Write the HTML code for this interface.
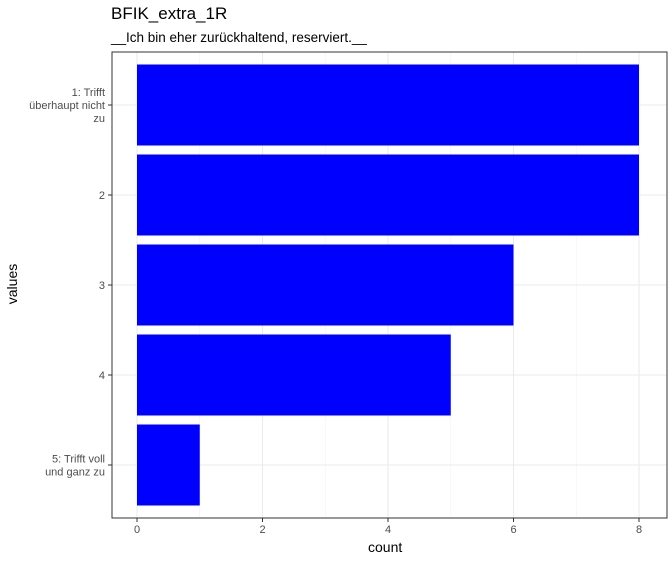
<!DOCTYPE html>
<html><head><meta charset="utf-8"><style>body{margin:0;background:#fff}svg{font-family:"Liberation Sans",sans-serif}</style></head>
<body>
<svg id="c" width="672" height="561"></svg>
<script>
const categories=["1: Trifft|überhaupt nicht|zu","2","3","4","5: Trifft voll|und ganz zu"];
const counts=[8,8,6,5,1];
const xTicks=[0,2,4,6,8];
const svg=document.getElementById('c');
const NS='http://www.w3.org/2000/svg';
const L=112,R=667,T=52,B=518;
const x=v=>137+v*62.75;
const y=i=>105+i*90;
function mk(t,a,p){const e=document.createElementNS(NS,t);for(const k in a)e.setAttribute(k,a[k]);(p||svg).appendChild(e);return e;}
mk('rect',{x:L,y:T,width:R-L,height:B-T,fill:'#fff'});
[1,3,5,7].forEach(v=>mk('line',{x1:x(v),x2:x(v),y1:T,y2:B,stroke:'#f2f2f2','stroke-width':0.7}));
xTicks.forEach(v=>mk('line',{x1:x(v),x2:x(v),y1:T,y2:B,stroke:'#ebebeb','stroke-width':1.1}));
categories.forEach((c,i)=>mk('line',{x1:L,x2:R,y1:y(i),y2:y(i),stroke:'#ebebeb','stroke-width':1.1}));
counts.forEach((v,i)=>{const r=mk('rect',{x:x(0),y:y(i)-40.5,width:x(v)-x(0),height:81,fill:'#0000ff'});

});
mk('rect',{x:L,y:T,width:R-L,height:B-T,fill:'none',stroke:'#333','stroke-width':1});
xTicks.forEach(v=>{mk('line',{x1:x(v),x2:x(v),y1:B,y2:B+4,stroke:'#333'});
const t=mk('text',{x:x(v),y:B+15,'text-anchor':'middle','font-size':11,fill:'#4d4d4d'});t.textContent=v;

});
categories.forEach((c,i)=>{mk('line',{x1:L-4,x2:L,y1:y(i),y2:y(i),stroke:'#333'});
const lines=c.split('|');const t=mk('text',{'text-anchor':'end','font-size':11,fill:'#4d4d4d'});


lines.forEach((l,j)=>{const s=mk('tspan',{x:L-7,y:y(i)+4+(j-(lines.length-1)/2)*13},t);s.textContent=l;});});
</script>
<svg width="0" height="0"></svg>
<div style="position:absolute;left:111px;top:4px;font:17px 'Liberation Sans',sans-serif;color:#000">BFIK_extra_1R</div>
<div style="position:absolute;left:111px;top:30px;font:13.5px 'Liberation Sans',sans-serif;color:#000">__Ich bin eher zurückhaltend, reserviert.__</div>
<div style="position:absolute;left:368px;top:539px;font:14px 'Liberation Sans',sans-serif;color:#000">count</div>
<div style="position:absolute;left:-8px;top:276px;transform:rotate(-90deg);font:14px 'Liberation Sans',sans-serif;color:#000">values</div>
</body></html>
